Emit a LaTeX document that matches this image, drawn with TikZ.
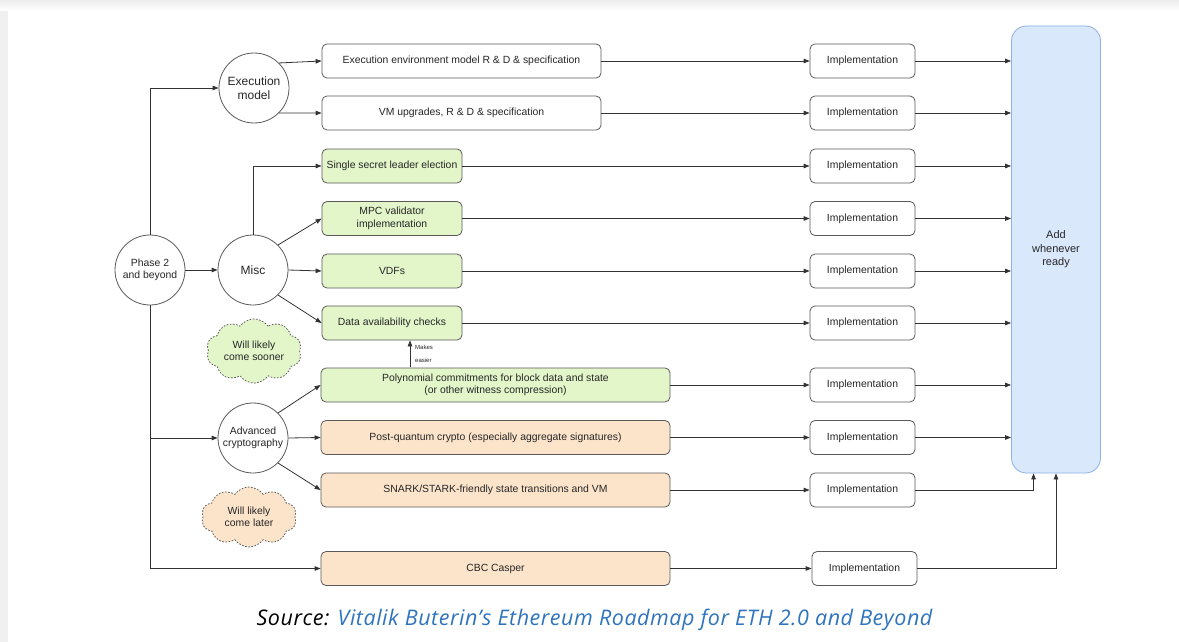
\documentclass[tikz,border=0pt]{standalone}
\usepackage{fontspec}
\setsansfont{Liberation Sans}
\newfontfamily\capfont[LetterSpace=2.5]{Open Sans}
\usetikzlibrary{arrows.meta,shapes.symbols,calc}
\definecolor{linegray}{HTML}{333333}
\definecolor{boxedge}{HTML}{5A5A5A}
\definecolor{greenfill}{HTML}{E2F6CA}
\definecolor{peachfill}{HTML}{FCE4CB}
\definecolor{bluefill}{HTML}{DAE8FC}
\definecolor{blueedge}{HTML}{8DB0E6}
\definecolor{linkblue}{HTML}{2F74BE}
\tikzset{
  base/.style={font=\sffamily\fontsize{10.4}{12.5}\selectfont, text=black!85, align=center, inner sep=0pt},
  hub/.style={base, circle, draw=boxedge, line width=0.8pt, fill=white, minimum size=70pt},
  wbox/.style={base, draw=boxedge, line width=0.8pt, rounded corners=5pt, fill=white, minimum height=34pt},
  gbox/.style={wbox, fill=greenfill},
  pbox/.style={wbox, fill=peachfill},
  impl/.style={wbox, minimum width=105pt},
  note/.style={base, cloud, cloud puffs=10, cloud puff arc=110, aspect=1.6, draw=boxedge,
    line width=0.8pt, dash pattern=on 1.6pt off 1.6pt, minimum width=95pt, minimum height=60pt},
  flow/.style={draw=linegray, line width=0.8pt, -{Triangle[length=6pt,width=4.5pt]}},
}
\begin{document}
\begin{tikzpicture}[x=1pt,y=-1pt]
  % page background
  \useasboundingbox (0,0) rectangle (1179,642);
  \fill[black!6] (0,0) rectangle (1179,642);
  \shade[top color=black!7, bottom color=white] (0,0) rectangle (1179,11);
  \fill[white] (8,10) rectangle (1179,642);

  % hubs
  \node[hub] (p2) at (150,270) {Phase 2\\and beyond};
  \node[hub, font=\sffamily\fontsize{12}{14}\selectfont] (exm) at (254,88) {Execution\\model};
  \node[hub, font=\sffamily\fontsize{12}{14}\selectfont] (misc) at (253,270) {Misc};
  \node[hub] (adv) at (253,438) {Advanced\\cryptography};

  % work items
  \node[wbox, minimum width=279pt] (eem) at (461.5,61) {Execution environment model R \& D \& specification};
  \node[wbox, minimum width=279pt] (vm) at (461.5,113) {VM upgrades, R \& D \& specification};
  \node[gbox, minimum width=140pt] (ssle) at (392,166) {Single secret leader election};
  \node[gbox, minimum width=140pt] (mpc) at (392,218.5) {MPC validator\\implementation};
  \node[gbox, minimum width=140pt] (vdf) at (392,271) {VDFs};
  \node[gbox, minimum width=140pt] (dac) at (392,323) {Data availability checks};
  \node[gbox, minimum width=349pt] (poly) at (495.5,385) {Polynomial commitments for block data and state\\(or other witness compression)};
  \node[pbox, minimum width=349pt] (pq) at (495.5,437.5) {Post-quantum crypto (especially aggregate signatures)};
  \node[pbox, minimum width=349pt] (snark) at (495.5,490) {SNARK/STARK-friendly state transitions and VM};
  \node[pbox, minimum width=349pt] (cbc) at (495.5,568.5) {CBC Casper};

  % implementation steps
  \node[impl] (i1) at (862.5,61) {Implementation};
  \node[impl] (i2) at (862.5,113) {Implementation};
  \node[impl] (i3) at (862.5,166) {Implementation};
  \node[impl] (i4) at (862.5,218.5) {Implementation};
  \node[impl] (i5) at (862.5,271) {Implementation};
  \node[impl] (i6) at (862.5,323) {Implementation};
  \node[impl] (i7) at (862.5,385) {Implementation};
  \node[impl] (i8) at (862.5,437.5) {Implementation};
  \node[impl] (i9) at (862.5,490) {Implementation};
  \node[impl] (i10) at (864.5,568.5) {Implementation};

  % final sink
  \node[base, draw=blueedge, fill=bluefill, line width=0.8pt, rounded corners=15pt,
        minimum width=89pt, minimum height=447pt, font=\sffamily\fontsize{11}{13.5}\selectfont]
        (add) at (1056,249.5) {Add\\whenever\\ready};

  % notes
  \node[note, fill=greenfill] (soon) at (254,351) {Will likely\\come sooner};
  \node[note, fill=peachfill] (late) at (249,517) {Will likely\\come later};

  % phase 2 branches
  \draw[flow] (p2.north) |- (exm.west);
  \draw[flow] (p2.east) -- (misc.west);
  \draw[flow] (p2.south) |- (adv.west);
  \draw[flow] (p2.south) |- (cbc.west);

  % execution model branches
  \draw[flow] (exm.45) -- (eem.west);
  \draw[flow] (exm.-45) -- (vm.west);

  % misc branches
  \draw[flow] (misc.north) |- (ssle.west);
  \draw[flow] (misc.45) -- (mpc.west);
  \draw[flow] (misc.east) -- (vdf.west);
  \draw[flow] (misc.-45) -- (dac.west);

  % advanced cryptography branches
  \draw[flow] (adv.45) -- (poly.west);
  \draw[flow] (adv.east) -- (pq.west);
  \draw[flow] (adv.-45) -- (snark.west);

  % polynomial commitments help data availability
  \coordinate (mk) at (410,367);
  \draw[flow] (mk) -- (mk |- dac.south);
  \node[base, font=\sffamily\fontsize{6}{12.5}\selectfont, anchor=west, align=left] (mklabel) at (415,354) {Makes\\easier};

  % items to implementation
  \draw[flow] (eem.east) -- (i1.west);
  \draw[flow] (vm.east) -- (i2.west);
  \draw[flow] (ssle.east) -- (i3.west);
  \draw[flow] (mpc.east) -- (i4.west);
  \draw[flow] (vdf.east) -- (i5.west);
  \draw[flow] (dac.east) -- (i6.west);
  \draw[flow] (poly.east) -- (i7.west);
  \draw[flow] (pq.east) -- (i8.west);
  \draw[flow] (snark.east) -- (i9.west);
  \draw[flow] (cbc.east) -- (i10.west);

  % implementation to the sink
  \foreach \i in {1,...,8} {
    \draw[flow] (i\i.east) -- (i\i.east -| add.west);
  }
  \coordinate (addq) at ($(add.south west)!0.25!(add.south east)$);
  \draw[flow] (i9.east) -| (addq);
  \draw[flow] (i10.east) -| (add.south);

  % caption
  \node[inner sep=0pt, font=\capfont\itshape\fontsize{21.5}{24}\selectfont] (cap) at (594.5,620)
    {Source: \textcolor{linkblue}{Vitalik Buterin’s Ethereum Roadmap for ETH 2.0 and Beyond}};
\end{tikzpicture}
\end{document}
